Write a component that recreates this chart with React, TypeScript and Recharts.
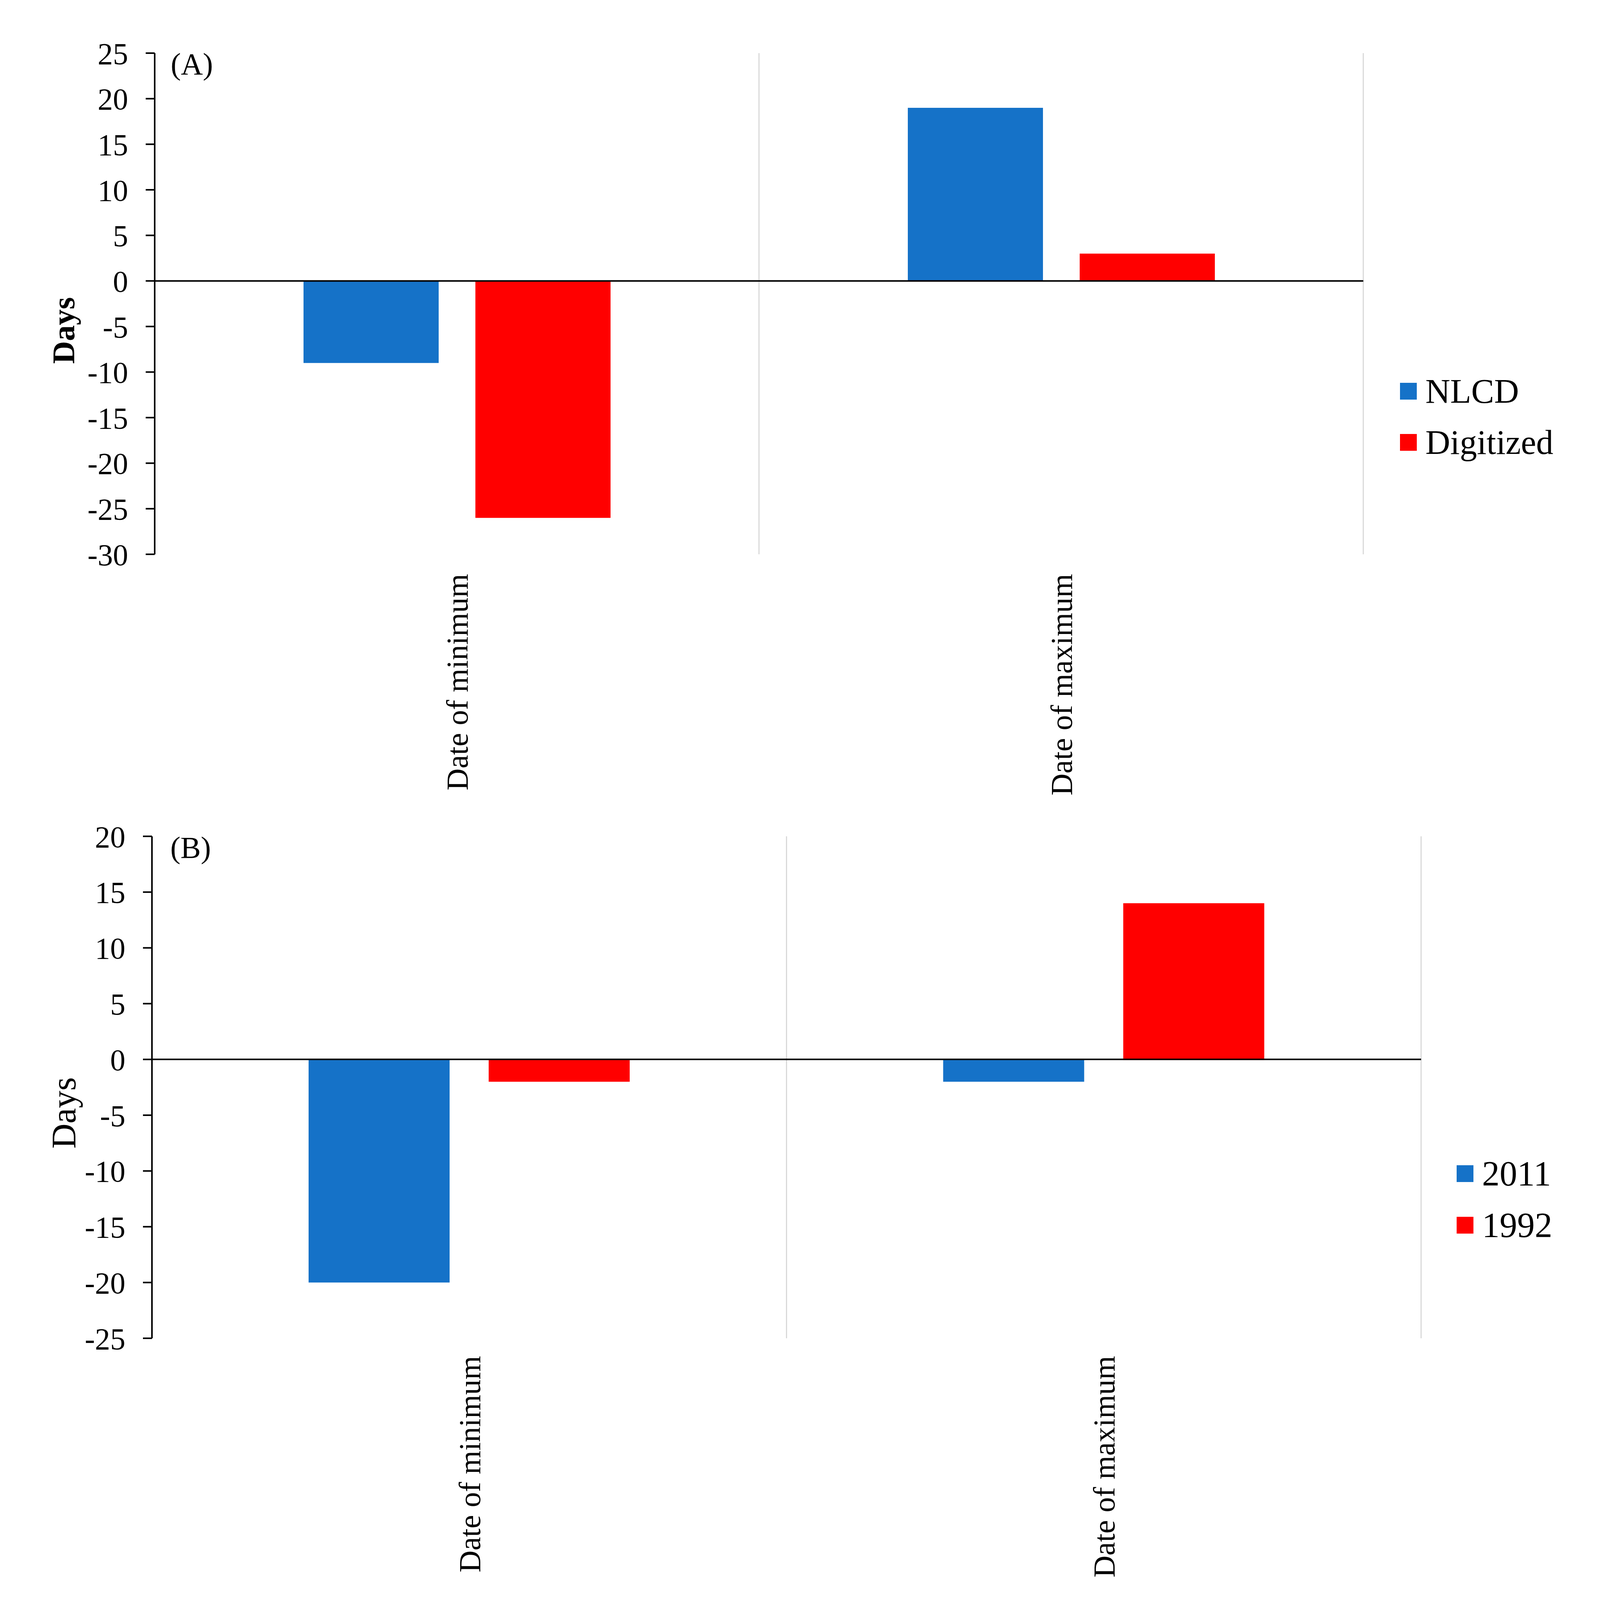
import React from 'react';
import { BarChart, Bar, XAxis, YAxis, CartesianGrid, ReferenceLine, Legend } from 'recharts';

// categories and values (days)
const categories = ['Date of minimum', 'Date of maximum'];
const nlcd = [-9, 19];
const digitized = [-26, 3];
const y2011 = [-20, -2];
const y1992 = [-2, 14];

const ticksA = [25, 20, 15, 10, 5, 0, -5, -10, -15, -20, -25, -30];
const ticksB = [20, 15, 10, 5, 0, -5, -10, -15, -20, -25];

const BLUE = '#1572C8';
const RED = '#FF0000';
const FONT = '"Liberation Serif", "Times New Roman", serif';
const W = 4129;
const H = 2076;

const dataA = categories.map((name, i) => ({ name, NLCD: nlcd[i], Digitized: digitized[i] }));
const dataB = categories.map((name, i) => ({ name, '2011': y2011[i], '1992': y1992[i] }));

const CategoryTick = (props: any) => {
  const { x, y, payload } = props;
  return (
    <text
      x={x}
      y={y}
      transform={`rotate(-90 ${x} ${y})`}
      textAnchor="end"
      dy="0.35em"
      fontSize={78}
      fontFamily={FONT}
      fill="#000"
    >
      {payload.value}
    </text>
  );
};

// keeps the series order instead of the default alphabetical one
const LegendBox = (props: any) => {
  const order: string[] = props.order || [];
  const items = [...(props.payload || [])].sort(
    (a: any, b: any) => order.indexOf(String(a.value)) - order.indexOf(String(b.value))
  );
  return (
    <div style={{ fontFamily: FONT, fontSize: props.fontSize, color: '#000' }}>
      {items.map((entry: any) => (
        <div
          key={entry.value}
          style={{ display: 'flex', alignItems: 'center', height: props.rowH, whiteSpace: 'nowrap' }}
        >
          <span
            style={{ display: 'inline-block', width: 43, height: 43, background: entry.color, marginRight: 22 }}
          />
          <span>{entry.value}</span>
        </div>
      ))}
    </div>
  );
};

interface PanelProps {
  data: any[];
  keys: string[];
  ticks: number[];
  margin: { top: number; right: number; bottom: number; left: number };
  catGap: number;
  barGap: number;
  labelGap: number;
  legendPos: { left: number; top: number };
  legendFont: number;
  rowH: number;
  tag: string;
  tagPos: { x: number; y: number };
  daysPos: { x: number; y: number };
  daysBold: boolean;
  daysSize: number;
}

const Panel: React.FC<PanelProps> = (p) => {
  const yAxisWidth = 200;
  const plotLeft = p.margin.left + yAxisWidth;
  const plotWidth = W - plotLeft - p.margin.right;
  const gridX = categories.map((_, i) => plotLeft + (plotWidth * (i + 1)) / categories.length);

  return (
    <div style={{ position: 'relative', width: W, height: H }}>
      <BarChart
        width={W}
        height={H}
        data={p.data}
        margin={p.margin}
        barCategoryGap={p.catGap}
        barGap={p.barGap}
      >
        <CartesianGrid horizontal={false} vertical verticalPoints={gridX} stroke="#d9d9d9" strokeWidth={3} />
        <XAxis
          dataKey="name"
          height={600}
          axisLine={false}
          tickLine={false}
          tickSize={0}
          tickMargin={p.labelGap}
          interval={0}
          tick={<CategoryTick />}
        />
        <YAxis
          width={yAxisWidth}
          domain={[p.ticks[p.ticks.length - 1], p.ticks[0]]}
          ticks={p.ticks}
          interval={0}
          axisLine={{ stroke: '#000', strokeWidth: 4 }}
          tickLine={{ stroke: '#000', strokeWidth: 4 }}
          tickSize={23}
          tickMargin={45}
          tick={{ fontSize: 78, fontFamily: FONT, fill: '#000' }}
        />
        <Bar dataKey={p.keys[0]} fill={BLUE} isAnimationActive={false} />
        <Bar dataKey={p.keys[1]} fill={RED} isAnimationActive={false} />
        <ReferenceLine y={0} stroke="#000" strokeWidth={4} />
        <Legend
          layout="vertical"
          align="center"
          verticalAlign="middle"
          content={<LegendBox order={p.keys} rowH={p.rowH} fontSize={p.legendFont} />}
          wrapperStyle={{ left: p.legendPos.left, top: p.legendPos.top, width: 480 }}
        />
      </BarChart>
      <svg
        width={W}
        height={H}
        style={{ position: 'absolute', left: 0, top: 0, pointerEvents: 'none' }}
      >
        <text x={p.tagPos.x} y={p.tagPos.y} fontSize={78} fontFamily={FONT} fill="#000">
          {p.tag}
        </text>
        <text
          x={p.daysPos.x}
          y={p.daysPos.y}
          transform={`rotate(-90 ${p.daysPos.x} ${p.daysPos.y})`}
          textAnchor="middle"
          dy="0.35em"
          fontSize={p.daysSize}
          fontWeight={p.daysBold ? 'bold' : 'normal'}
          fontFamily={FONT}
          fill="#000"
        >
          Days
        </text>
      </svg>
    </div>
  );
};

const App: React.FC = () => (
  <div style={{ position: 'absolute', left: 0, top: 0, width: W, height: 2 * H, background: '#fff' }}>
    <Panel
      data={dataA}
      keys={['NLCD', 'Digitized']}
      ticks={ticksA}
      margin={{ top: 136, right: 639, bottom: 57, left: 196 }}
      catGap={381}
      barGap={94}
      labelGap={50}
      legendPos={{ left: 3584, top: 936 }}
      legendFont={88}
      rowH={131}
      tag="(A)"
      tagPos={{ x: 437, y: 190 }}
      daysPos={{ x: 162, y: 846 }}
      daysBold
      daysSize={81}
    />
    <Panel
      data={dataB}
      keys={['2011', '1992']}
      ticks={ticksB}
      margin={{ top: 65, right: 491, bottom: 126, left: 189 }}
      catGap={401}
      barGap={100}
      labelGap={45}
      legendPos={{ left: 3729, top: 862 }}
      legendFont={90}
      rowH={132}
      tag="(B)"
      tagPos={{ x: 436, y: 120 }}
      daysPos={{ x: 162, y: 773 }}
      daysBold={false}
      daysSize={89}
    />
  </div>
);

export default App;
